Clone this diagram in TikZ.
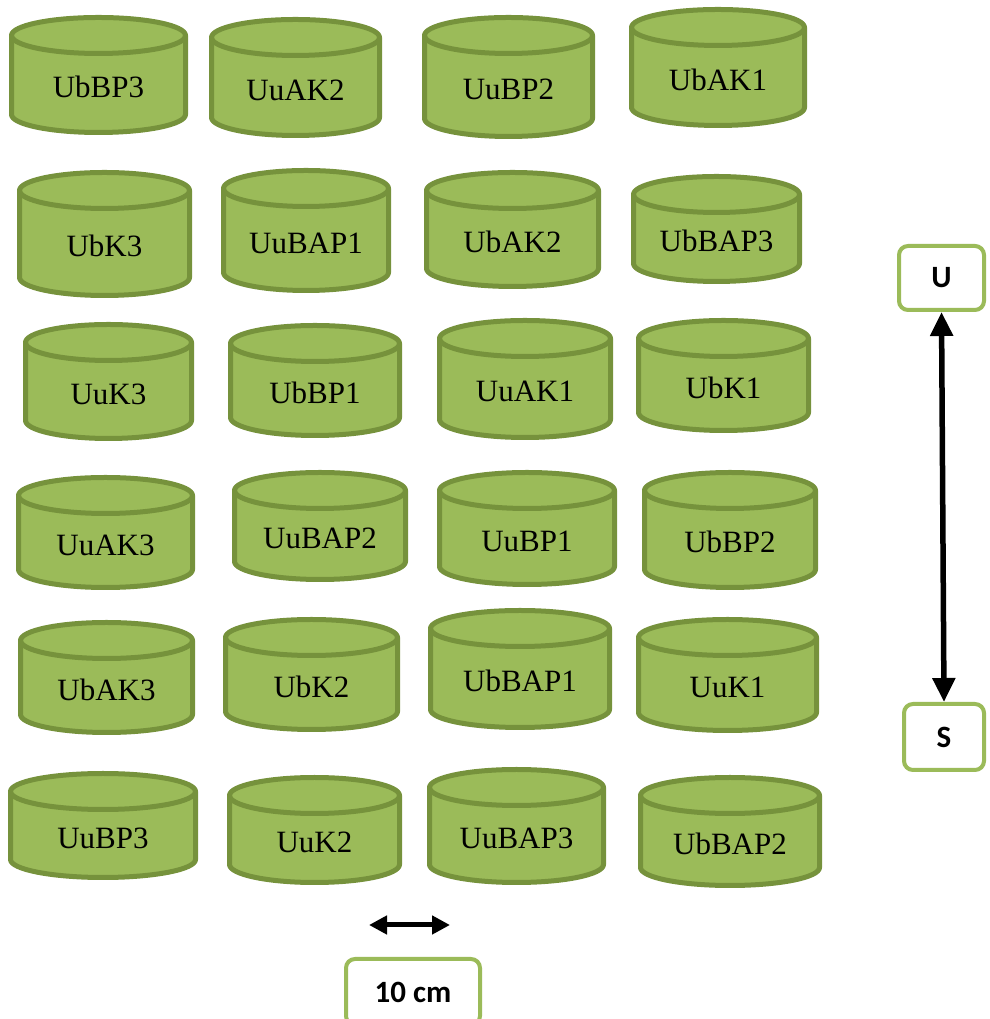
\documentclass[tikz,border=0pt]{standalone}
\usepackage{fontspec}
\setmainfont{Liberation Serif}
\newfontfamily\calib{Carlito}
\usetikzlibrary{arrows.meta}
\definecolor{drumfill}{HTML}{9BBB59}
\definecolor{drumedge}{HTML}{76923C}
\definecolor{boxedge}{HTML}{9BBB59}
\tikzset{
  drumline/.style={line width=5pt, draw=drumedge, fill=drumfill, line join=round},
  drumrim/.style={line width=5pt, draw=drumedge, line cap=round},
  drumtext/.style={anchor=base, inner sep=0pt, font=\fontsize{31}{37}\selectfont},
  tagbox/.style={draw=boxedge, line width=4pt, rounded corners=9pt, fill=white,
    inner sep=0pt, font=\calib\bfseries\fontsize{31}{36}\selectfont},
  bigarrow/.style={line width=5.5pt, {Triangle[width=22pt,length=24pt]}-{Triangle[width=22pt,length=24pt]}},
  smallarrow/.style={line width=5pt, {Triangle[width=18pt,length=18pt]}-{Triangle[width=18pt,length=18pt]}}
}
\newcommand{\drum}[6]{%
  \pgfmathsetmacro\xa{#2+2.5}%
  \pgfmathsetmacro\xb{#4-2.5}%
  \pgfmathsetmacro\ya{1019-(#3+2.5+18)}%
  \pgfmathsetmacro\yb{1019-(#5-2.5-18)}%
  \pgfmathsetmacro\rx{(\xb-\xa)/2}%
  \pgfmathsetmacro\xm{(\xa+\xb)/2}%
  \pgfmathsetmacro\ty{1019-((#3+40+#5)/2+3)}%
  \draw[drumline] (\xa,\ya) -- (\xa,\yb)
     arc[start angle=180, end angle=360, x radius=\rx pt, y radius=18pt]
     -- (\xb,\ya)
     arc[start angle=0, end angle=180, x radius=\rx pt, y radius=18pt] -- cycle;
  \draw[drumrim] (\xa,\ya) arc[start angle=180, end angle=360, x radius=\rx pt, y radius=18pt];
  \node[drumtext] (#1) at (\xm,\ty) {#6};
}
\begin{document}
\begin{tikzpicture}[x=1pt,y=1pt]
\useasboundingbox (0,0) rectangle (989,1019);
\clip (0,0) rectangle (989,1019);
% row 1
\drum{UbBP3}{9}{15}{188}{135}{UbBP3}
\drum{UuAK2}{209}{17}{382}{138}{UuAK2}
\drum{UuBP2}{422}{15}{595}{139}{UuBP2}
\drum{UbAK1}{629}{7}{807}{128}{UbAK1}
% row 2
\drum{UbK3}{17}{170}{192}{298}{UbK3}
\drum{UuBAP1}{221}{168}{391}{293}{UuBAP1}
\drum{UbAK2}{424}{170}{601}{289}{UbAK2}
\drum{UbBAP3}{631}{174}{802}{284}{UbBAP3}
% row 3
\drum{UuK3}{23}{322}{194}{441}{UuK3}
\drum{UbBP1}{228}{323}{402}{438}{UbBP1}
\drum{UuAK1}{437}{318}{613}{440}{UuAK1}
\drum{UbK1}{636}{318}{811}{433}{UbK1}
% row 4
\drum{UuAK3}{16}{475}{195}{590}{UuAK3}
\drum{UuBAP2}{232}{470}{408}{582}{UuBAP2}
\drum{UuBP1}{437}{470}{617}{587}{UuBP1}
\drum{UbBP2}{642}{470}{818}{590}{UbBP2}
% row 5
\drum{UbAK3}{18}{620}{195}{735}{UbAK3}
\drum{UbK2}{223}{617}{400}{732}{UbK2}
\drum{UbBAP1}{428}{608}{612}{730}{UbBAP1}
\drum{UuK1}{636}{617}{819}{733}{UuK1}
% row 6
\drum{UuBP3}{8}{771}{198}{880}{UuBP3}
\drum{UuK2}{227}{775}{402}{885}{UuK2}
\drum{UuBAP3}{427}{767}{606}{885}{UuBAP3}
\drum{UbBAP2}{638}{775}{822}{888}{UbBAP2}
% U / S boxes
\node[tagbox, minimum width=85pt, minimum height=64pt] (U) at (941.5,741) {\raisebox{-7pt}{U}};
\node[tagbox, minimum width=80pt, minimum height=66pt] (S) at (944,282) {\raisebox{-5pt}{S}};
\draw[bigarrow] (U.south) -- (S.north);
% scale
\node[tagbox, minimum width=134pt, minimum height=66pt] (scale) at (413,27) {\raisebox{-4pt}{10 cm}};
\coordinate (ha) at (369,94);
\coordinate (hb) at (450,94);
\draw[smallarrow] (ha) -- (hb);
\end{tikzpicture}
\end{document}
